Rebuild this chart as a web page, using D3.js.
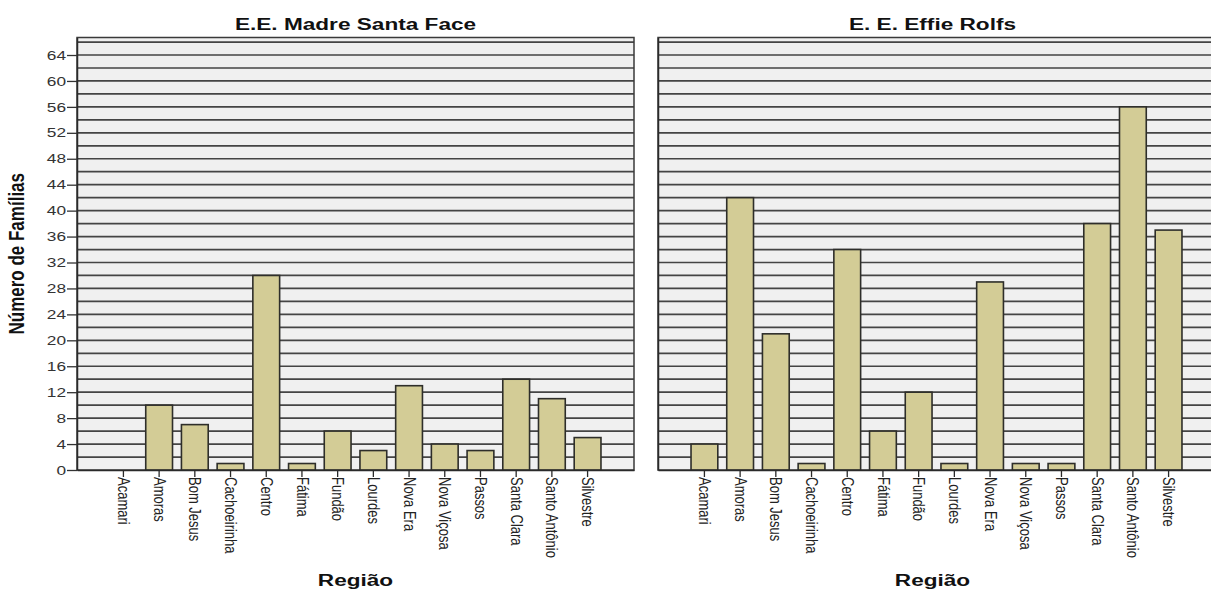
<!DOCTYPE html>
<html><head><meta charset="utf-8">
<script src="https://cdn.jsdelivr.net/npm/d3@7"></script>
<style>body{margin:0;background:#fff;}svg{display:block;font-family:"Liberation Sans",Arial,sans-serif;}</style>
</head><body>
<svg id="c" width="1211" height="592"></svg>
<script>
const categories = ["Acamari","Amoras","Bom Jesus","Cachoeirinha","Centro","Fátima","Fundão","Lourdes","Nova Era","Nova Viçosa","Passos","Santa Clara","Santo Antônio","Silvestre"];
const madreSantaFace = [0,10,7,1,30,1,6,3,13,4,3,14,11,5];
const effieRolfs = [4,42,21,1,34,6,12,1,29,1,1,38,56,37];
const panelTitles = ["E.E. Madre Santa Face","E. E. Effie Rolfs"];
const yTicks = d3.range(0,65,4);
const gridValues = d3.range(2,67,2);
const yTitle = "Número de Famílias";
const xTitle = "Região";

const SX = 1.33; // horizontal stretch of the reference text
const svg = d3.select("#c");
const plotTop = 37.5, plotBottom = 470;
const y = d3.scaleLinear().domain([0,66.7]).range([plotBottom, plotTop]);
const panels = [{x0:77, x1:634, data:madreSantaFace, title:panelTitles[0], yLabels:true},
                {x0:658, x1:1215, data:effieRolfs, title:panelTitles[1], yLabels:false}];

panels.forEach(p => {
  const x = d3.scaleBand().domain(categories).range([p.x0, p.x1]).paddingInner(0.25).paddingOuter(0.925);
  const g = svg.append("g");
  g.append("rect").attr("x",p.x0).attr("y",plotTop).attr("width",p.x1-p.x0).attr("height",plotBottom-plotTop)
    .attr("fill","#f0f0f0");
  g.selectAll("line.grid").data(gridValues).join("line").attr("class","grid")
    .attr("x1",p.x0).attr("x2",p.x1).attr("y1",d=>y(d)).attr("y2",d=>y(d))
    .attr("stroke","#454545").attr("stroke-width",1.7);
  g.append("rect").attr("x",p.x0).attr("y",plotTop).attr("width",p.x1-p.x0).attr("height",plotBottom-plotTop)
    .attr("fill","none").attr("stroke","#3a3a3a").attr("stroke-width",1.5);
  g.selectAll("rect.bar").data(categories.map((c,i)=>({c, v:p.data[i]})).filter(d=>d.v>0)).join("rect").attr("class","bar")
    .attr("x",d=>x(d.c)).attr("width",x.bandwidth())
    .attr("y",d=>y(d.v)).attr("height",d=>y(0)-y(d.v))
    .attr("fill","#d3cc96").attr("stroke","#2e2e2a").attr("stroke-width",1.6);
  const xa = g.append("g").attr("transform",`translate(0,${plotBottom})`)
    .call(d3.axisBottom(x).tickSize(7).tickSizeOuter(0));
  xa.select(".domain").attr("stroke","#2a2a2a").attr("stroke-width",1.5);
  xa.selectAll(".tick line").attr("stroke","#2a2a2a").attr("stroke-width",1.3);
  xa.selectAll(".tick text").attr("transform",`rotate(90) scale(1,${SX})`).attr("x",7).attr("y",-0.5)
    .attr("dy","0.35em").attr("text-anchor","start").attr("font-size",13).attr("fill","#222");
  const ya = g.append("g").attr("transform",`translate(${p.x0},0)`)
    .call(d3.axisLeft(y).tickValues(yTicks).tickSize(p.yLabels?10:0).tickSizeOuter(0));
  ya.select(".domain").attr("stroke","#2a2a2a").attr("stroke-width",1.5);
  ya.selectAll(".tick line").attr("stroke","#333").attr("stroke-width",1.3);
  ya.selectAll(".tick text").attr("font-size",13).attr("fill","#333").attr("x",-11/SX)
    .attr("transform",`scale(${SX},1)`)
    .style("display",p.yLabels?null:"none");
  const cx = (p.x0+p.x1)/2 - (p.yLabels?0:4);
  svg.append("text").attr("transform",`translate(${cx},30) scale(${SX},1)`).attr("text-anchor","middle")
    .attr("font-weight","bold").attr("font-size",17).attr("fill","#111").text(p.title);
  svg.append("text").attr("transform",`translate(${cx},586) scale(${SX},1)`).attr("text-anchor","middle")
    .attr("font-weight","bold").attr("font-size",17).attr("fill","#111").text(xTitle);
});
svg.append("text").attr("transform",`translate(24,${(plotTop+plotBottom)/2}) rotate(-90) scale(1,${SX})`).attr("text-anchor","middle")
  .attr("font-weight","bold").attr("font-size",17).attr("fill","#111").text(yTitle);
</script>
</body></html>
